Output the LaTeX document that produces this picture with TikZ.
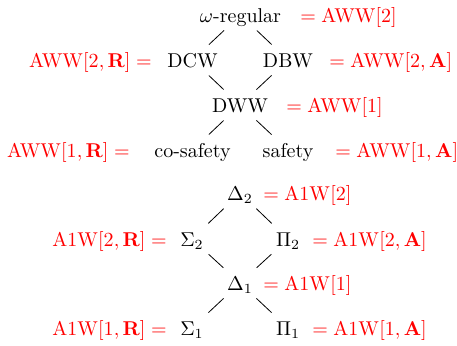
\documentclass[tikz,border=0pt]{standalone}
\usepackage{amsmath}
\begin{document}
\begin{tikzpicture}[x=0.5pt,y=-0.5pt,
  lat/.style={inner sep=0pt, text height=7pt, text depth=0pt, anchor=base},
  eqr/.style={inner sep=0pt, text=red, anchor=base west},
  eql/.style={inner sep=0pt, text=red, anchor=base east},
  conn/.style={line width=0.4pt, shorten <=11.3pt, shorten >=11.3pt}]
\useasboundingbox (0,0) rectangle (457,345);
% top lattice
\node[lat] (omega) at (240.5,22) {$\omega$-regular};
\node[lat] (dcw) at (192.5,67) {DCW};
\node[lat] (dbw) at (288,67) {DBW};
\node[lat] (dww) at (240,112) {DWW};
\node[lat] (cos) at (192.5,157) {co-safety};
\node[lat] (saf) at (288,157) {safety};
\node[eqr] (lomega) at (300,22) {$= \mathrm{AWW}[2]$};
\node[eql] (ldcw) at (152,67) {$\mathrm{AWW}[2,\mathbf{R}] =$};
\node[eqr] (ldbw) at (329,67) {$= \mathrm{AWW}[2,\mathbf{A}]$};
\node[eqr] (ldww) at (286,112) {$= \mathrm{AWW}[1]$};
\node[eql] (lcos) at (130,157) {$\mathrm{AWW}[1,\mathbf{R}] =$};
\node[eqr] (lsaf) at (335,157) {$= \mathrm{AWW}[1,\mathbf{A}]$};
\draw[conn] (omega.center) -- (dcw.center);
\draw[conn] (omega.center) -- (dbw.center);
\draw[conn] (dcw.center) -- (dww.center);
\draw[conn] (dbw.center) -- (dww.center);
\draw[conn] (dww.center) -- (cos.center);
\draw[conn] (dww.center) -- (saf.center);
% bottom lattice
\node[lat] (d2) at (240,200) {$\Delta_2$};
\node[lat] (s2) at (192,246) {$\Sigma_2$};
\node[lat] (p2) at (288,246) {$\Pi_2$};
\node[lat] (d1) at (240,290) {$\Delta_1$};
\node[lat] (s1) at (192,335) {$\Sigma_1$};
\node[lat] (p1) at (288,335) {$\Pi_1$};
\node[eqr] (ld2) at (263,200) {$= \mathrm{A1W}[2]$};
\node[eql] (ls2) at (167,246) {$\mathrm{A1W}[2,\mathbf{R}] =$};
\node[eqr] (lp2) at (312,246) {$= \mathrm{A1W}[2,\mathbf{A}]$};
\node[eqr] (ld1) at (263,290) {$= \mathrm{A1W}[1]$};
\node[eql] (ls1) at (167,335) {$\mathrm{A1W}[1,\mathbf{R}] =$};
\node[eqr] (lp1) at (312,335) {$= \mathrm{A1W}[1,\mathbf{A}]$};
\draw[conn] (d2.center) -- (s2.center);
\draw[conn] (d2.center) -- (p2.center);
\draw[conn] (s2.center) -- (d1.center);
\draw[conn] (p2.center) -- (d1.center);
\draw[conn] (d1.center) -- (s1.center);
\draw[conn] (d1.center) -- (p1.center);
\end{tikzpicture}
\end{document}
